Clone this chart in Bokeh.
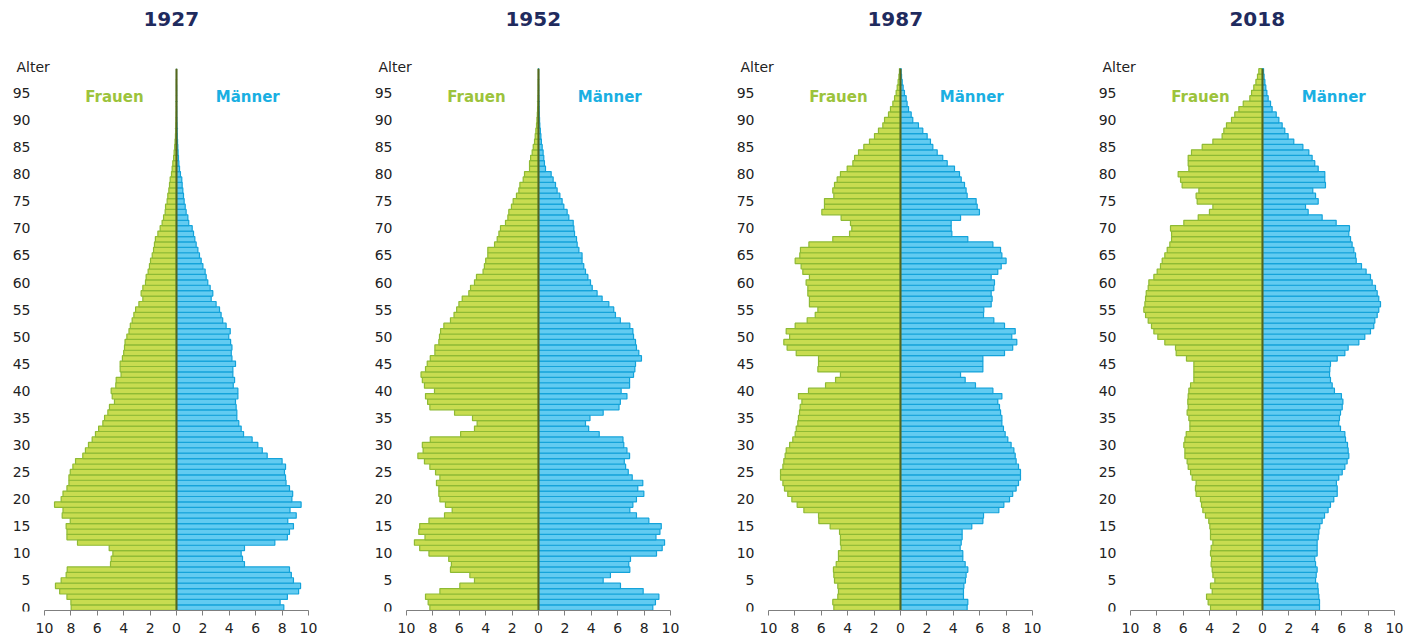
from bokeh.plotting import figure
from bokeh.layouts import row
from bokeh.models import Label, Range1d, FixedTicker
from bokeh.core.properties import value
from bokeh.embed import file_html
from bokeh.resources import INLINE

ages = list(range(100))
years = ["1927", "1952", "1987", "2018"]
x_ticks = [-10, -8, -6, -4, -2, 0, 2, 4, 6, 8, 10]
y_ticks = list(range(0, 100, 5))

frauen_1927 = [7.98, 8.0, 8.3, 8.85, 9.17, 8.74, 8.36, 8.28, 5.0, 4.95,
               4.82, 5.1, 7.5, 8.3, 8.3, 8.36, 8.05, 8.66, 8.6, 9.24,
               8.74, 8.6, 8.3, 8.15, 8.15, 8.05, 7.85, 7.65, 7.1, 6.9,
               6.67, 6.39, 6.14, 5.9, 5.58, 5.45, 5.2, 5.08, 4.7, 4.87,
               4.95, 4.6, 4.57, 4.2, 4.27, 4.27, 4.1, 4.0, 3.94, 3.9,
               3.76, 3.6, 3.5, 3.36, 3.23, 3.1, 2.85, 2.55, 2.68, 2.55,
               2.35, 2.3, 2.15, 2.05, 1.97, 1.84, 1.74, 1.67, 1.6, 1.41,
               1.24, 1.09, 0.98, 0.86, 0.83, 0.71, 0.66, 0.58, 0.53, 0.48,
               0.38, 0.33, 0.28, 0.22, 0.18, 0.14, 0.11, 0.08, 0.06, 0.05,
               0.04, 0.03, 0.02, 0.02, 0.01, 0.01, 0.01, 0.01, 0.0, 0.0]
maenner_1927 = [8.13, 7.85, 8.4, 9.25, 9.4, 8.86, 8.7, 8.56, 5.15, 5.0,
                4.9, 5.15, 7.45, 8.4, 8.56, 8.86, 8.43, 9.07, 8.6, 9.44,
                8.74, 8.8, 8.56, 8.3, 8.26, 8.18, 8.26, 8.0, 6.87, 6.5,
                6.16, 5.73, 5.08, 4.9, 4.72, 4.57, 4.57, 4.52, 4.47, 4.65,
                4.65, 4.3, 4.4, 4.27, 4.27, 4.47, 4.2, 4.15, 4.2, 4.1,
                3.96, 4.07, 3.76, 3.5, 3.38, 3.26, 3.0, 2.63, 2.75, 2.55,
                2.37, 2.25, 2.17, 2.0, 1.87, 1.74, 1.62, 1.49, 1.39, 1.29,
                1.19, 0.93, 0.86, 0.73, 0.66, 0.58, 0.53, 0.48, 0.43, 0.4,
                0.3, 0.23, 0.18, 0.15, 0.12, 0.1, 0.08, 0.06, 0.05, 0.04,
                0.03, 0.02, 0.02, 0.01, 0.01, 0.01, 0.01, 0.0, 0.0, 0.0]

frauen_1952 = [8.23, 8.36, 8.56, 7.47, 5.96, 4.85, 5.2, 6.67, 6.6, 6.8,
               8.3, 9.0, 9.4, 8.6, 9.07, 9.0, 8.3, 7.12, 6.54, 7.05,
               7.47, 7.55, 7.55, 7.73, 7.47, 7.8, 8.23, 8.64, 9.14, 8.74,
               8.8, 8.2, 5.9, 4.85, 4.65, 5.0, 6.36, 8.23, 8.4, 8.56,
               7.88, 8.64, 8.8, 8.9, 8.56, 8.43, 8.2, 7.85, 7.85, 7.55,
               7.5, 7.42, 7.17, 6.67, 6.4, 6.2, 6.03, 5.78, 5.28, 5.15,
               4.85, 4.7, 4.2, 4.1, 4.0, 3.84, 3.84, 3.33, 3.13, 3.0,
               2.88, 2.5, 2.32, 2.25, 2.05, 1.92, 1.67, 1.49, 1.41, 1.16,
               1.06, 0.68, 0.68, 0.6, 0.48, 0.4, 0.3, 0.25, 0.2, 0.15,
               0.12, 0.09, 0.07, 0.05, 0.04, 0.03, 0.02, 0.02, 0.01, 0.01]
maenner_1952 = [8.66, 8.86, 9.12, 7.93, 6.21, 4.9, 5.45, 6.92, 6.84, 6.97,
                8.94, 9.37, 9.55, 8.9, 9.2, 9.3, 8.36, 7.42, 6.92, 7.15,
                7.42, 7.98, 7.52, 7.9, 7.1, 6.8, 6.6, 6.5, 6.9, 6.7,
                6.46, 6.4, 4.6, 3.8, 3.56, 3.9, 4.9, 6.1, 6.2, 6.7,
                6.26, 6.9, 6.9, 7.2, 7.3, 7.35, 7.8, 7.6, 7.42, 7.35,
                7.2, 7.15, 6.92, 6.2, 5.83, 5.7, 5.33, 4.82, 4.44, 4.07,
                3.94, 3.74, 3.56, 3.43, 3.3, 3.3, 3.06, 2.93, 2.88, 2.73,
                2.68, 2.63, 2.3, 2.17, 1.92, 1.79, 1.62, 1.41, 1.29, 1.11,
                0.96, 0.53, 0.45, 0.4, 0.35, 0.28, 0.22, 0.18, 0.14, 0.1,
                0.08, 0.06, 0.05, 0.04, 0.03, 0.02, 0.02, 0.01, 0.01, 0.01]

frauen_1987 = [5.05, 5.13, 4.75, 4.7, 4.75, 5.0, 5.05, 5.08, 4.87, 4.7,
               4.7, 4.5, 4.55, 4.55, 4.62, 5.33, 6.19, 6.21, 7.32, 7.83,
               8.23, 8.54, 8.79, 8.91, 9.09, 9.09, 8.91, 8.84, 8.74, 8.66,
               8.4, 8.16, 7.98, 7.9, 7.78, 7.73, 7.65, 7.6, 7.47, 7.73,
               6.97, 5.68, 4.92, 4.55, 6.26, 6.21, 6.21, 7.9, 8.59, 8.84,
               8.4, 8.66, 7.98, 7.07, 6.46, 6.26, 6.9, 6.9, 7.02, 7.02,
               7.15, 6.9, 7.4, 7.53, 7.98, 7.63, 7.58, 6.94, 5.13, 3.86,
               3.69, 3.79, 4.5, 5.96, 5.76, 5.76, 5.05, 5.13, 5.0, 4.8,
               4.55, 4.04, 3.61, 3.48, 3.18, 2.78, 2.35, 1.97, 1.67, 1.34,
               1.21, 0.91, 0.76, 0.58, 0.45, 0.33, 0.25, 0.18, 0.12, 0.08]
maenner_1987 = [5.05, 5.1, 4.77, 4.77, 4.8, 4.92, 4.97, 5.1, 4.9, 4.72,
                4.72, 4.52, 4.6, 4.67, 4.67, 5.4, 6.24, 6.29, 7.45, 7.83,
                8.26, 8.5, 8.76, 8.94, 9.09, 9.09, 8.94, 8.76, 8.69, 8.59,
                8.38, 8.13, 7.93, 7.8, 7.68, 7.68, 7.58, 7.5, 7.37, 7.68,
                7.0, 5.68, 4.9, 4.55, 6.24, 6.24, 6.24, 7.88, 8.5, 8.81,
                8.43, 8.69, 7.88, 7.07, 6.29, 6.31, 6.87, 6.94, 6.87, 7.07,
                7.12, 6.87, 7.37, 7.63, 8.0, 7.68, 7.58, 7.0, 5.1, 3.89,
                3.84, 3.84, 4.55, 5.98, 5.81, 5.73, 5.05, 4.97, 4.85, 4.6,
                4.47, 4.09, 3.54, 3.2, 2.78, 2.45, 2.27, 2.02, 1.69, 1.36,
                0.93, 0.81, 0.61, 0.5, 0.43, 0.3, 0.2, 0.13, 0.08, 0.05]

frauen_2018 = [3.94, 4.12, 4.24, 3.81, 3.94, 3.61, 3.76, 3.81, 3.89, 3.86,
               3.94, 3.89, 3.76, 3.94, 3.94, 3.99, 4.07, 4.32, 4.52, 4.62,
               4.7, 5.03, 5.08, 5.03, 5.33, 5.45, 5.63, 5.71, 5.88, 5.88,
               5.96, 5.88, 5.78, 5.5, 5.5, 5.58, 5.71, 5.63, 5.66, 5.63,
               5.58, 5.45, 5.2, 5.2, 5.2, 5.2, 5.76, 6.54, 6.59, 7.4,
               7.93, 8.23, 8.41, 8.66, 8.86, 8.99, 8.91, 8.86, 8.81, 8.66,
               8.61, 8.23, 7.98, 7.73, 7.6, 7.4, 7.22, 7.02, 6.89, 6.89,
               6.97, 5.96, 4.87, 4.02, 3.76, 4.95, 5.03, 4.82, 6.09, 6.21,
               6.39, 5.58, 5.63, 5.63, 5.38, 4.57, 3.76, 3.06, 2.93, 2.73,
               2.35, 2.1, 1.79, 1.46, 0.96, 0.83, 0.66, 0.5, 0.38, 0.28]
maenner_2018 = [4.32, 4.32, 4.27, 4.22, 4.19, 4.02, 4.07, 4.14, 4.02, 3.96,
                4.14, 4.14, 4.14, 4.22, 4.27, 4.34, 4.52, 4.7, 4.97, 5.15,
                5.4, 5.66, 5.66, 5.6, 5.78, 6.04, 6.24, 6.41, 6.54, 6.49,
                6.44, 6.29, 6.24, 5.91, 5.78, 5.83, 5.91, 6.04, 6.09, 5.98,
                5.45, 5.28, 5.15, 5.08, 5.1, 5.15, 5.66, 6.24, 6.49, 7.3,
                7.75, 8.18, 8.43, 8.51, 8.69, 8.81, 8.94, 8.81, 8.69, 8.56,
                8.31, 8.18, 7.85, 7.5, 7.1, 7.05, 6.92, 6.79, 6.67, 6.54,
                6.59, 5.58, 4.52, 3.46, 3.26, 4.22, 4.02, 3.81, 4.77, 4.72,
                4.72, 4.22, 3.96, 3.76, 3.51, 3.06, 2.37, 1.94, 1.69, 1.49,
                1.24, 1.04, 0.73, 0.61, 0.43, 0.33, 0.25, 0.18, 0.12, 0.08]

frauen = [frauen_1927, frauen_1952, frauen_1987, frauen_2018]
maenner = [maenner_1927, maenner_1952, maenner_1987, maenner_2018]

GREEN_FILL = "#c8dc50"
GREEN_LINE = "#8eba34"
BLUE_FILL = "#62cbf1"
BLUE_LINE = "#14a3da"
CENTER_LINE = "#56661c"
FONT = "DejaVu Sans"

# pixel geometry of one panel (frame covers the whole panel above the x axis)
PX_X = 13.2          # pixels per percent
PX_Y = 5.416         # pixels per year of age
ZERO_X = 176         # x pixel of value 0 inside a panel
BASE_Y = 610         # pixel row of the age axis baseline
FRAME_H = 611
Y_BASE = -0.55       # data value at the baseline


def make_panel(year, fem, mal, width):
    x0 = -ZERO_X / PX_X
    x1 = (width - ZERO_X) / PX_X
    y0 = Y_BASE - (FRAME_H - BASE_Y) / PX_Y
    y1 = Y_BASE + BASE_Y / PX_Y
    p = figure(width=width, height=FRAME_H + 29, output_backend="svg", toolbar_location=None,
               x_range=Range1d(x0, x1), y_range=Range1d(y0, y1),
               y_axis_location=None,
               min_border_left=0, min_border_right=0, min_border_top=0, min_border_bottom=29)
    p.outline_line_color = None
    p.grid.visible = False
    p.background_fill_color = "white"
    p.border_fill_color = "white"

    p.hbar(y=ages, left=[-v for v in fem], right=0, height=1.0,
           fill_color=GREEN_FILL, line_color=GREEN_LINE, line_width=1.2)
    p.hbar(y=ages, left=0, right=mal, height=1.0,
           fill_color=BLUE_FILL, line_color=BLUE_LINE, line_width=1.2)
    p.segment(x0=[0], y0=[Y_BASE], x1=[0], y1=[ages[-1] + 0.5],
              line_color=CENTER_LINE, line_width=2)
    # x axis baseline between the outer ticks
    p.segment(x0=[x_ticks[0]], y0=[Y_BASE], x1=[x_ticks[-1]], y1=[Y_BASE],
              line_color="#7f7f7f", line_width=1)

    xa = p.xaxis[0]
    xa.ticker = FixedTicker(ticks=x_ticks)
    xa.major_label_overrides = {t: str(abs(t)) for t in x_ticks}
    xa.axis_line_color = None
    xa.major_tick_line_color = "#7f7f7f"
    xa.major_tick_in = 1
    xa.major_tick_out = 4
    xa.minor_tick_line_color = None
    xa.major_label_standoff = 7
    xa.major_label_text_font = FONT
    xa.major_label_text_font_size = "14px"
    xa.major_label_text_color = "#222222"

    # age tick labels
    p.text(x=[-11.06] * len(y_ticks), y=y_ticks, text=[str(t) for t in y_ticks],
           text_align="right", text_baseline="middle", text_font=value(FONT),
           text_font_size="14px", text_color="#222222")

    p.add_layout(Label(x=-0.4, y=108.6, text=year, text_align="center", text_baseline="middle",
                       text_font=FONT, text_font_style="bold", text_font_size="20px",
                       text_color="#1f2b5e"))
    p.add_layout(Label(x=-12.12, y=99.8, text="Alter", text_align="left", text_baseline="middle",
                       text_font=FONT, text_font_size="14px", text_color="#222222"))
    p.add_layout(Label(x=-4.7, y=94.17, text="Frauen", text_align="center", text_baseline="middle",
                       text_font=FONT, text_font_style="bold", text_font_size="15px",
                       text_color="#9cc33c"))
    p.add_layout(Label(x=5.4, y=94.17, text="Männer", text_align="center", text_baseline="middle",
                       text_font=FONT, text_font_style="bold", text_font_size="15px",
                       text_color="#1aafe2"))
    return p


widths = [362, 362, 362, 318]
panels = [make_panel(years[i], frauen[i], maenner[i], widths[i]) for i in range(4)]

layout = row(*panels, spacing=0)
open("out.html", "w").write(file_html(layout, INLINE))
